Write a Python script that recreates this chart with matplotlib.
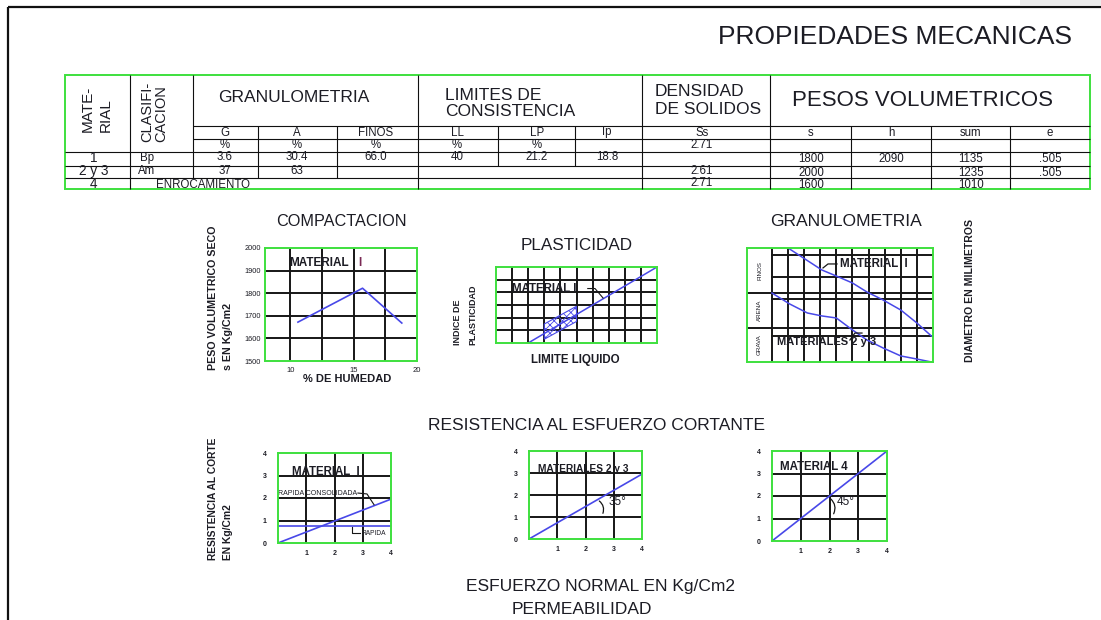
import matplotlib
matplotlib.use('Agg')
import matplotlib.pyplot as plt
from matplotlib.patches import Polygon, Rectangle

# ---------------- table data ----------------
mat_ids = ['1', '2 y 3', '4']
clasif = ['Bp', 'Am', 'ENROCAMIENTO']
gran_G = ['3.6', '37', '']
gran_A = ['30.4', '63', '']
gran_finos = ['66.0', '', '']
lim_LL = ['40', '', '']
lim_LP = ['21.2', '', '']
lim_Ip = ['18.8', '', '']
dens_Ss = ['2.71', '2.61', '2.71']
peso_s = ['1800', '2000', '1600']
peso_h = ['2090', '', '']
peso_sum = ['1135', '1235', '1010']
peso_e = ['.505', '.505', '']
sub_headers = ['G', 'A', 'FINOS', 'LL', 'LP', 'Ip', 'Ss', 's', 'h', 'sum', 'e']
pct_row = ['%', '%', '%', '%', '%', '', '', '', '', '', '']

# ---------------- chart data ----------------
comp_humedad = [10.6, 15.7, 18.8]
comp_peso = [1672, 1822, 1668]
comp_xticks = [10, 15, 20]
comp_yticks = [1500, 1600, 1700, 1800, 1900, 2000]

plast_LL = [20, 100]
plast_Ip = [0, 60]
plast_zone_LL = [30, 30, 50, 50]
plast_zone_Ip = [3, 15, 29, 17]

gran_pct_m1 = [10, 31, 40, 50, 59, 69, 80, 90, 99]
gran_d_m1 = [10, 8.07, 7.54, 6.93, 6.14, 5.44, 4.56, 3.42, 2.28]
gran_pct_m23 = [0, 11, 22, 31, 40, 50, 59, 69, 80, 90, 99]
gran_d_m23 = [6.05, 5.09, 4.3, 4.04, 3.86, 2.81, 1.93, 1.23, 0.53, 0.26, 0.0]
gran_labels = ['FINOS', 'ARENA', 'GRAVA']

shear_normal = [0, 4]
shear_m1_consol = [0, 1.95]
shear_m1_rapida = [0.75, 0.75]
shear_m23 = [0, 2.95]
shear_m4 = [0, 4]
shear_ticks = [0, 1, 2, 3, 4]

# ---------------- style ----------------
plt.rcParams['font.family'] = ['Liberation Sans', 'DejaVu Sans']
plt.rcParams['hatch.color'] = '#4848e8'
plt.rcParams['hatch.linewidth'] = 0.6
TXT = '#1c1c24'
GREEN = '#3ee03e'
BLUE = '#4848e8'
GRID = '#161616'
W, H = 1101, 620

fig = plt.figure(figsize=(W / 100, H / 100), dpi=100)
bg = fig.add_axes([0, 0, 1, 1])
bg.set_xlim(0, W)
bg.set_ylim(H, 0)
bg.axis('off')


def hl(y, x0, x1, c='#101010', lw=0.8):
    bg.plot([x0, x1], [y, y], color=c, lw=lw, solid_capstyle='butt')


def vl(x, y0, y1, c='#101010', lw=0.8):
    bg.plot([x, x], [y0, y1], color=c, lw=lw, solid_capstyle='butt')


def t(x, y, s, size=7, ha='center', va='center', **kw):
    bg.text(x, y, s, fontsize=size, ha=ha, va=va, color=TXT, **kw)


# outer frame
bg.add_patch(Rectangle((1020, 0), 81, 5, color='#ececec', lw=0))
hl(7, 8, W, c='#111111', lw=1.6)
vl(8, 7, H, c='#111111', lw=1.6)

t(895, 37, 'PROPIEDADES MECANICAS', size=19)

# ---------------- table ----------------
L, R, T, B = 65, 1090, 75, 189
for y, x0 in [(126, 193), (139, 193), (152, L), (166, L), (178, L)]:
    hl(y, x0, R)
for x, y0, y1 in [(130, T, B), (193, T, 178), (258, 126, 178), (337, 126, 178),
                  (418, T, B), (498, 126, 166), (575, 126, 166), (642, T, B),
                  (770, T, B), (851, 126, B), (931, 126, B), (1010, 126, B)]:
    vl(x, y0, y1)
bg.add_patch(Rectangle((L, T), R - L, B - T, fill=False, edgecolor=GREEN, lw=1.4))

# headers
t(88, 132, 'MATE-', size=11, rotation=90, va='bottom')
t(106, 132, 'RIAL', size=11, rotation=90, va='bottom')
t(147, 142, 'CLASIFI-', size=10.5, rotation=90, va='bottom')
t(161, 142, 'CACION', size=10.5, rotation=90, va='bottom')
t(294, 97, 'GRANULOMETRIA', size=12.5)
t(445, 95, 'LIMITES DE', size=12.5, ha='left')
t(445, 112, 'CONSISTENCIA', size=12.5, ha='left')
t(655, 91, 'DENSIDAD', size=12.5, ha='left')
t(655, 109, 'DE SOLIDOS', size=12.5, ha='left')
t(922, 101, 'PESOS VOLUMETRICOS', size=16)

TS = 8.3
col_x = [225, 297, 376, 457, 537, 607, 702, 811, 891, 971, 1050]
for cx, sh, pc in zip(col_x, sub_headers, pct_row):
    t(cx, 132.5, sh, size=TS)
    if pc:
        t(cx, 145.5, pc, size=TS)

row_y = [158.5, 171.5, 183.5]
ss_y = [145.5, 171.5, 183.5]
for i in range(3):
    t(94, row_y[i], mat_ids[i], size=9.8)
    if i < 2:
        t(147, row_y[i], clasif[i], size=TS)
    else:
        t(203, row_y[i] + 1, clasif[i], size=TS)
    for cx, vals in zip(col_x[:6], [gran_G, gran_A, gran_finos, lim_LL, lim_LP, lim_Ip]):
        if vals[i]:
            t(cx, row_y[i] - 1, vals[i], size=TS)
    t(col_x[6], ss_y[i], dens_Ss[i], size=TS)
    for cx, vals in zip(col_x[7:], [peso_s, peso_h, peso_sum, peso_e]):
        if vals[i]:
            t(cx, row_y[i] + 1, vals[i], size=TS)


# ---------------- chart helpers ----------------
def make_axes(box, xlim, ylim):
    l, tp, r, b = box
    ax = fig.add_axes([l / W, 1 - b / H, (r - l) / W, (b - tp) / H])
    ax.set_xlim(*xlim)
    ax.set_ylim(*ylim)
    ax.patch.set_alpha(0)
    for s in ax.spines.values():
        s.set_color(GREEN)
        s.set_linewidth(1.4)
        s.set_zorder(3)
    ax.tick_params(length=0, labelsize=5, labelcolor=TXT)
    ax.set_xticks([])
    ax.set_yticks([])
    return ax


def grid(ax, xs, ys, lw=1.4):
    for v in xs:
        ax.axvline(v, color=GRID, lw=lw, zorder=1)
    for v in ys:
        ax.axhline(v, color=GRID, lw=lw, zorder=1)


# ---------------- COMPACTACION ----------------
t(341, 222, 'COMPACTACION', size=11.7)
ax = make_axes((265, 248, 417, 361), (8, 20), (1500, 2000))
grid(ax, [10, 12.5, 15, 17.5], [1600, 1700, 1800, 1900])
ax.plot(comp_humedad, comp_peso, color=BLUE, lw=1.2, zorder=2)
ax.set_xticks(comp_xticks)
ax.set_xticklabels([str(v) for v in comp_xticks])
ax.set_yticks(comp_yticks)
ax.set_yticklabels([str(v) for v in comp_yticks])
ax.tick_params(axis='x', pad=4, labelsize=5.5)
ax.tick_params(axis='y', pad=3, labelsize=5.3)
ax.text(9.9, 1934, 'MATERIAL', fontsize=8.5, fontweight='bold', color=TXT, va='center')
ax.text(15.4, 1934, 'I', fontsize=8.5, fontweight='bold', color='#7a2a55', va='center')
t(213, 370, 'PESO VOLUMETRICO SECO', size=7.7, rotation=90, va='bottom', fontweight='bold')
t(228, 370, 's EN Kg/Cm2', size=7.7, rotation=90, va='bottom', fontweight='bold')
t(347, 379, '% DE HUMEDAD', size=8, fontweight='bold')

# ---------------- PLASTICIDAD ----------------
t(577, 245, 'PLASTICIDAD', size=12.3)
ax = make_axes((496, 267, 657, 343), (0, 100), (0, 60))
grid(ax, range(10, 100, 10), range(10, 60, 10))
ax.plot(plast_LL, plast_Ip, color=BLUE, lw=1.1, zorder=2)
ax.add_patch(Polygon(list(zip(plast_zone_LL, plast_zone_Ip)), closed=True, fill=False,
                     edgecolor=BLUE, hatch='xxxx', lw=0.8, zorder=2))
ax.text(10, 42.6, 'MATERIAL I', fontsize=8.3, fontweight='bold', color=TXT, va='center')
ax.plot([57, 61.5, 66.5], [43, 43, 35.5], color=GRID, lw=0.8, zorder=2)
t(458, 345, 'INDICE DE', size=6.5, rotation=90, va='bottom', fontweight='bold')
t(473, 345, 'PLASTICIDAD', size=6.5, rotation=90, va='bottom', fontweight='bold')
t(575, 360, 'LIMITE LIQUIDO', size=8.3, fontweight='bold')

# ---------------- GRANULOMETRIA ----------------
t(846, 222, 'GRANULOMETRIA', size=12.6)
ax = make_axes((747, 248, 933, 362), (-15.5, 100), (0, 10))
grid(ax, [0] + list(range(10, 100, 10)), [6.05, 3.0])
for yv in [9.4, 7.5, 5.5, 2.3]:
    ax.plot([0, 100], [yv, yv], color=GRID, lw=1.4, zorder=1)
ax.plot(gran_pct_m1, gran_d_m1, color=BLUE, lw=1.1, zorder=2)
ax.plot(gran_pct_m23, gran_d_m23, color=BLUE, lw=1.1, zorder=2)
for lab, yc in zip(gran_labels, [8.0, 4.5, 1.5]):
    ax.text(-7.7, yc, lab, fontsize=4.5, rotation=90, ha='center', va='center', color=TXT)
ax.text(42.5, 8.6, 'MATERIAL  I', fontsize=8.3, fontweight='bold', color=TXT, va='center')
ax.plot([31.7, 34.8, 40.4], [8.25, 8.6, 8.6], color=GRID, lw=0.9, zorder=2)
ax.text(3.1, 1.75, 'MATERIALES 2 y 3', fontsize=8, fontweight='bold', color=TXT, va='center')
ax.plot([48.4, 51.5, 55.9], [1.93, 2.54, 2.54], color=GRID, lw=0.9, zorder=2)
t(970, 291, 'DIAMETRO EN MILIMETROS', size=7.6, rotation=90, fontweight='bold')

# ---------------- RESISTENCIA AL ESFUERZO CORTANTE ----------------
t(597, 425, 'RESISTENCIA AL ESFUERZO CORTANTE', size=12.5)


def shear_axes(box):
    ax = make_axes(box, (0, 4), (0, 4))
    grid(ax, [1, 2, 3], [1, 2, 3])
    ax.set_xticks(shear_ticks[1:])
    ax.set_xticklabels([str(v) for v in shear_ticks[1:]])
    ax.set_yticks(shear_ticks)
    ax.set_yticklabels([str(v) for v in shear_ticks])
    ax.tick_params(axis='x', pad=5)
    ax.tick_params(axis='y', pad=8)
    for lab in ax.get_xticklabels() + ax.get_yticklabels():
        lab.set_fontweight('bold')
    return ax


ax = shear_axes((278, 453, 391, 543))
ax.plot(shear_normal, shear_m1_consol, color=BLUE, lw=1.2, zorder=2)
ax.plot(shear_normal, shear_m1_rapida, color=BLUE, lw=1.2, zorder=2)
ax.text(0.5, 3.15, 'MATERIAL  I', fontsize=8.3, fontweight='bold', color=TXT, va='center')
ax.text(2.8, 2.22, 'RAPIDA CONSOLIDADA', fontsize=5, color=TXT, ha='right', va='center',
        clip_on=False)
ax.plot([2.83, 3.15, 3.4], [2.22, 2.18, 1.7], color=GRID, lw=0.8, zorder=2)
ax.plot([2.62, 2.62, 2.9], [0.71, 0.44, 0.44], color=GRID, lw=0.8, zorder=2)
ax.text(2.97, 0.44, 'RAPIDA', fontsize=4.8, color=TXT, ha='left', va='center', clip_on=False)
t(213, 560, 'RESISTENCIA AL CORTE', size=7.4, rotation=90, va='bottom', fontweight='bold')
t(228, 560, 'EN Kg/Cm2', size=7.4, rotation=90, va='bottom', fontweight='bold')

ax = shear_axes((529, 451, 642, 539))
ax.plot(shear_normal, shear_m23, color=BLUE, lw=1.2, zorder=2)
ax.text(0.32, 3.18, 'MATERIALES 2 y 3', fontsize=7.3, fontweight='bold', color=TXT, va='center')
ax.annotate('', xy=(2.58, 1.05), xytext=(2.41, 1.8),
            arrowprops=dict(arrowstyle='-', color=GRID, lw=0.9,
                            connectionstyle='arc3,rad=-0.45'))
ax.text(2.8, 1.7, '35°', fontsize=8.5, color=TXT, va='center')

ax = shear_axes((772, 451, 887, 541))
ax.plot(shear_normal, shear_m4, color=BLUE, lw=1.2, zorder=2)
ax.text(0.28, 3.3, 'MATERIAL 4', fontsize=8.3, fontweight='bold', color=TXT, va='center')
ax.annotate('', xy=(2.1, 1.1), xytext=(1.97, 1.95),
            arrowprops=dict(arrowstyle='-', color=GRID, lw=0.9,
                            connectionstyle='arc3,rad=-0.45'))
ax.text(2.26, 1.73, '45°', fontsize=8.5, color=TXT, va='center')

t(600, 587, 'ESFUERZO NORMAL EN Kg/Cm2', size=12.5)
t(582, 609, 'PERMEABILIDAD', size=12.5)

fig.savefig('out.png', dpi=100)
